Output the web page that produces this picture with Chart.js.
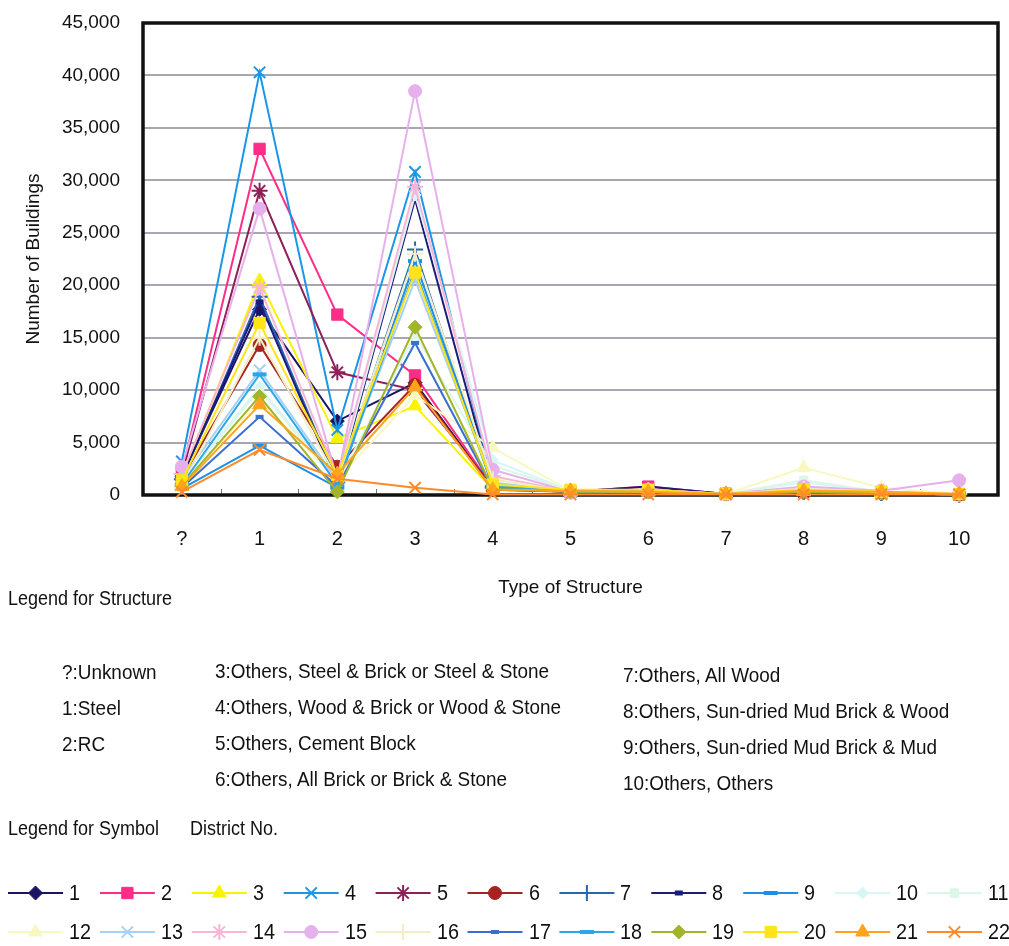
<!DOCTYPE html>
<html>
<head>
<meta charset="utf-8">
<script src="https://cdn.jsdelivr.net/npm/chart.js@4.4.1/dist/chart.umd.min.js"></script>
<style>
  html, body { margin: 0; padding: 0; background: #fff; }
  #wrap { position: relative; width: 1009px; height: 946px; overflow: hidden; }
  #c { position: absolute; left: 0; top: 0; }
  .t { position: absolute; white-space: nowrap; color: #111;
       font-family: "Liberation Sans", Arial, sans-serif;
       transform: scaleX(0.9); transform-origin: 0 50%; }
</style>
</head>
<body>
<div id="wrap">
  <canvas id="c" width="1009" height="946"></canvas>
</div>
<script>
// Type of structure (x axis) and number of buildings per district
const categories = ['?', '1', '2', '3', '4', '5', '6', '7', '8', '9', '10'];
const yTicks = [0, 5000, 10000, 15000, 20000, 25000, 30000, 35000, 40000, 45000];

const district1  = [1800, 17700, 7050, 10700, 600, 300, 400, 100, 300, 200, 50];
const district2  = [2200, 33000, 17200, 11400, 700, 300, 800, 100, 400, 200, 50];
const district3  = [1500, 20400, 5400, 8500, 500, 300, 300, 100, 300, 200, 50];
const district4  = [3200, 40300, 6200, 30800, 1000, 300, 500, 100, 400, 300, 50];
const district5  = [2000, 29000, 11700, 10000, 800, 300, 500, 100, 300, 200, 50];
const district6  = [1600, 14300, 2700, 10500, 500, 300, 300, 100, 300, 200, 50];
const district7  = [1500, 18900, 1200, 23400, 700, 300, 400, 100, 300, 200, 50];
const district8  = [1700, 18400, 1000, 28200, 800, 300, 800, 100, 400, 200, 50];
const district9  = [600, 4700, 700, 22300, 900, 300, 400, 100, 300, 200, 50];
const district10 = [1200, 10300, 1300, 28600, 3300, 400, 500, 100, 1200, 300, 100];
const district11 = [1200, 10000, 1200, 15300, 2800, 400, 400, 100, 1400, 300, 100];
const district12 = [1000, 9000, 1500, 9500, 4500, 400, 400, 100, 2600, 700, 100];
const district13 = [1500, 11900, 1400, 20500, 1200, 300, 400, 100, 500, 200, 50];
const district14 = [2000, 19800, 1800, 29400, 1800, 300, 500, 100, 700, 300, 100];
const district15 = [2700, 27300, 1500, 38500, 2400, 300, 500, 100, 800, 400, 1400];
const district16 = [800, 15000, 1500, 23000, 1500, 300, 300, 100, 600, 300, 100];
const district17 = [700, 7450, 800, 14500, 600, 300, 400, 100, 300, 200, 50];
const district18 = [1000, 11500, 1000, 21500, 800, 300, 400, 100, 300, 200, 50];
const district19 = [900, 9400, 300, 16000, 600, 300, 300, 100, 300, 200, 50];
const district20 = [1400, 16400, 1900, 21200, 1000, 500, 500, 100, 500, 300, 100];
const district21 = [800, 8600, 2000, 10300, 500, 400, 300, 100, 400, 300, 100];
const district22 = [300, 4300, 1550, 700, 50, 50, 50, 50, 50, 50, 50];

const districtValues = [district1, district2, district3, district4, district5, district6,
  district7, district8, district9, district10, district11, district12, district13,
  district14, district15, district16, district17, district18, district19, district20,
  district21, district22];

const districtColors = ['#1b1464', '#ff2d87', '#f8f400', '#1a96e6', '#8e1f57', '#a8231f',
  '#2766b0', '#1c1c7a', '#1e8fe6', '#d9f6f6', '#dcf6e8', '#f8f8c2', '#a6d0f5', '#f8b6d6',
  '#e6b0ec', '#f3eec4', '#3a6fd0', '#2aa7e8', '#a3b42a', '#ffe41a', '#ffa41c', '#ff8a2a'];

// marker: [pointStyle, radius, borderWidth]
const districtMarkers = [
  ['rectRot', 7, 1], ['rect', 8, 1], ['triangle', 8, 1], ['crossRot', 8, 2], ['star', 8, 2],
  ['circle', 6.5, 1], ['cross', 8, 2], ['line', 4, 5], ['line', 7, 4], ['rectRot', 6, 1],
  ['rect', 6, 1], ['triangle', 8, 1], ['crossRot', 8, 2], ['star', 8, 2], ['circle', 6.5, 1],
  ['cross', 8, 2], ['line', 4, 4], ['line', 7, 4], ['rectRot', 7, 1], ['rect', 8, 1],
  ['triangle', 8, 1], ['crossRot', 8, 2]];

const structureColumns = [
  ['?:Unknown', '1:Steel', '2:RC'],
  ['3:Others, Steel & Brick or Steel & Stone', '4:Others, Wood & Brick or Wood & Stone',
   '5:Others, Cement Block', '6:Others, All Brick or Brick & Stone'],
  ['7:Others, All Wood', '8:Others, Sun-dried Mud Brick & Wood',
   '9:Others, Sun-dried Mud Brick & Mud', '10:Others, Others']
];

const wrap = document.getElementById('wrap');
function addText(str, x, yCenter, size) {
  const d = document.createElement('div');
  d.className = 't';
  d.textContent = str;
  d.style.left = x + 'px';
  d.style.top = (yCenter - size / 2) + 'px';
  d.style.fontSize = size + 'px';
  d.style.lineHeight = size + 'px';
  wrap.appendChild(d);
  return d;
}

// Structure legend block
addText('Legend for Structure', 8, 598, 20);
const colX = [62, 215, 623];
const colY0 = [671, 670, 674];
structureColumns.forEach((col, ci) => {
  col.forEach((s, ri) => addText(s, colX[ci], colY0[ci] + ri * 36, 21));
});
addText('Legend for Symbol', 8, 828, 20);
addText('District No.', 190, 828, 20);

// District numbers next to the symbol legend
const legendColW = 91.9;
const legendRowsY = [893, 932];
districtValues.forEach((_, i) => {
  const col = i % 11, row = Math.floor(i / 11);
  addText(String(i + 1), 8 + col * legendColW + 61, legendRowsY[row], 22);
});

const datasets = districtValues.map((vals, i) => ({
  label: String(i + 1),
  data: vals,
  borderColor: districtColors[i],
  backgroundColor: districtColors[i],
  borderWidth: 2,
  pointStyle: districtMarkers[i][0],
  pointRadius: districtMarkers[i][1],
  pointBorderWidth: districtMarkers[i][2],
  pointBackgroundColor: districtColors[i],
  pointBorderColor: districtColors[i],
  tension: 0,
  clip: false,
  order: -i
}));

// Frame around the plot, inner ticks on the category axis and the symbol legend
const framePlugin = {
  id: 'frame',
  beforeDatasetsDraw(chart) {
    const { ctx, chartArea: a, scales } = chart;
    const xs = scales.x;
    const step = xs.getPixelForValue(1) - xs.getPixelForValue(0);
    ctx.save();
    ctx.strokeStyle = '#777';
    ctx.lineWidth = 1;
    for (let k = 1; k < categories.length; k++) {
      const x = Math.round(xs.getPixelForValue(k) - step / 2) + 0.5;
      ctx.beginPath();
      ctx.moveTo(x, a.bottom);
      ctx.lineTo(x, a.bottom - 6);
      ctx.stroke();
    }
    ctx.strokeStyle = '#111';
    ctx.lineWidth = 3.5;
    ctx.strokeRect(a.left, a.top, a.right - a.left, a.bottom - a.top);
    ctx.restore();
  },
  afterDraw(chart) {
    const ctx = chart.ctx;
    ctx.save();
    districtValues.forEach((_, i) => {
      const col = i % 11, row = Math.floor(i / 11);
      const x0 = 8 + col * legendColW;
      const y = legendRowsY[row];
      ctx.strokeStyle = districtColors[i];
      ctx.fillStyle = districtColors[i];
      ctx.lineWidth = 2;
      ctx.beginPath();
      ctx.moveTo(x0, y);
      ctx.lineTo(x0 + 55, y);
      ctx.stroke();
      ctx.lineWidth = districtMarkers[i][2];
      Chart.helpers.drawPoint(ctx, {
        pointStyle: districtMarkers[i][0],
        radius: districtMarkers[i][1],
        borderWidth: districtMarkers[i][2],
        rotation: 0
      }, x0 + 27.5, y);
    });
    ctx.restore();
  }
};

new Chart(document.getElementById('c'), {
  type: 'line',
  data: { labels: categories, datasets },
  options: {
    responsive: false,
    animation: false,
    devicePixelRatio: 1,
    layout: { padding: { top: 23, right: 0, left: 0, bottom: 341 } },
    plugins: { legend: { display: false }, tooltip: { enabled: false } },
    scales: {
      x: {
        type: 'category',
        offset: true,
        grid: { display: false, drawTicks: false },
        border: { display: false },
        ticks: {
          color: '#111', padding: 32,
          font: { family: '"Liberation Sans", Arial', size: 20 }
        },
        title: {
          display: true, text: 'Type of Structure', color: '#111',
          font: { family: '"Liberation Sans", Arial', size: 19 },
          padding: { top: 0, bottom: 6 }
        },
        afterFit(scale) {
          scale.height = 110;
          scale.paddingLeft = 0;
          scale.paddingRight = 0;
        }
      },
      y: {
        min: 0, max: 45000,
        afterBuildTicks(scale) { scale.ticks = yTicks.map(v => ({ value: v })); },
        grid: { color: '#a9a5b3', lineWidth: 2, drawTicks: false },
        border: { display: false },
        ticks: {
          color: '#111', padding: 23,
          font: { family: '"Liberation Sans", Arial', size: 19 },
          callback: v => v.toLocaleString('en-US')
        },
        title: {
          display: true, text: 'Number of Buildings', color: '#111',
          font: { family: '"Liberation Sans", Arial', size: 19 },
          padding: { top: 22, bottom: 0 }
        },
        afterFit(scale) {
          scale.width = 143;
          scale.paddingTop = 0;
          scale.paddingBottom = 0;
        }
      }
    }
  },
  plugins: [framePlugin]
});
</script>
</body>
</html>
